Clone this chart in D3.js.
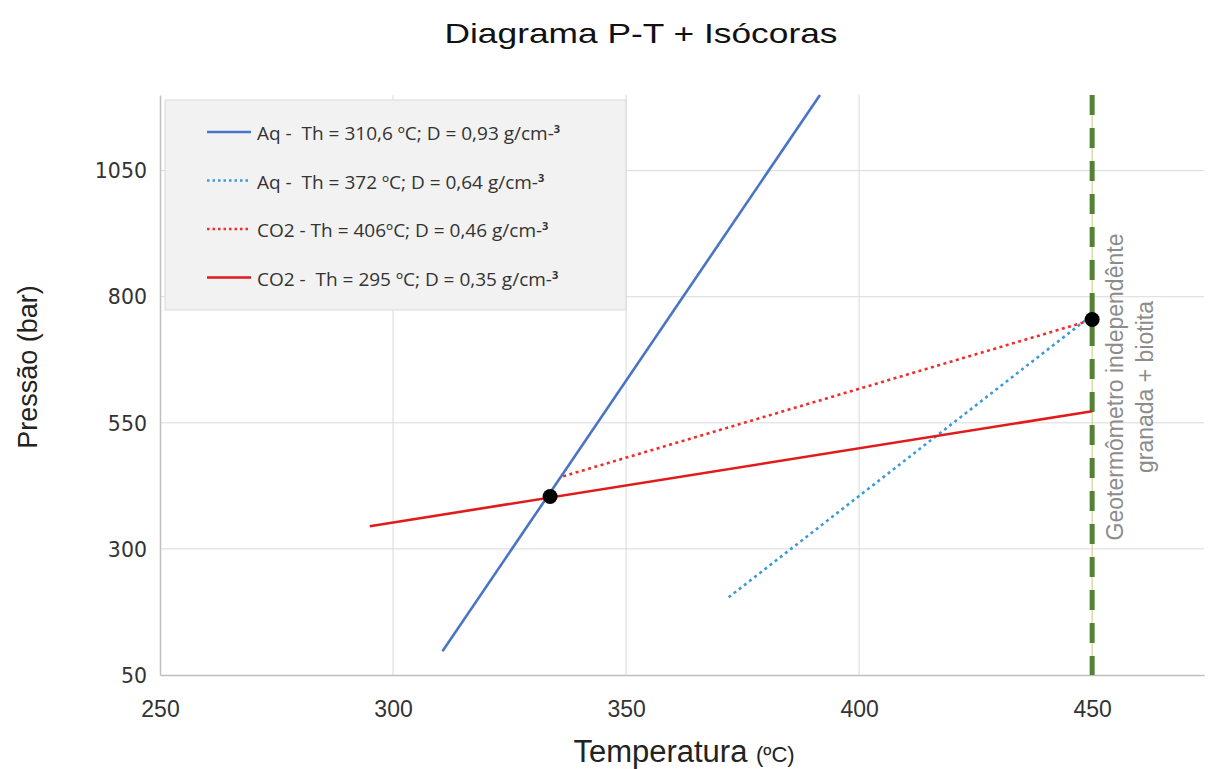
<!DOCTYPE html>
<html>
<head>
<meta charset="utf-8">
<script src="https://cdn.jsdelivr.net/npm/d3@7"></script>
<style>
  body { margin: 0; background: #fff; }
  svg { display: block; }
</style>
</head>
<body>
<div id="chart"></div>
<script>
// isochores, [temperature ºC, pressure bar]
const aqSolid = [[310.6, 97], [391.6, 1200]];
const aqDotted = [[372, 204], [448.5, 753]];
const co2Dotted = [[336.5, 444], [449.6, 753]];
const co2Solid = [[295, 345], [450, 573]];
const markers = [[333.7, 404], [450, 755]];
const geoTemp = 450;

const xTicks = [250, 300, 350, 400, 450];
const yTicks = [50, 300, 550, 800, 1050];

const legendLabels = [
  'Aq -  Th = 310,6 ºC; D = 0,93 g/cm-',
  'Aq -  Th = 372 ºC; D = 0,64 g/cm-',
  'CO2 - Th = 406ºC; D = 0,46 g/cm-',
  'CO2 -  Th = 295 ºC; D = 0,35 g/cm-'
];

const width = 1208, height = 769;
const margin = { top: 95, right: 4, bottom: 94, left: 160 };

const svg = d3.select('#chart')
  .append('svg')
  .attr('width', width)
  .attr('height', height);

const x = d3.scaleLinear()
  .domain([250, 474])
  .range([margin.left, width - margin.right]);

const y = d3.scaleLinear()
  .domain([50, 1200])
  .range([height - margin.bottom, margin.top]);

// grid
svg.append('g')
  .selectAll('line')
  .data(yTicks.slice(1))
  .join('line')
  .attr('x1', x.range()[0]).attr('x2', x.range()[1])
  .attr('y1', d => y(d)).attr('y2', d => y(d))
  .attr('stroke', '#d9d9d9').attr('stroke-width', 1);

svg.append('g')
  .selectAll('line')
  .data(xTicks.slice(1))
  .join('line')
  .attr('x1', d => x(d)).attr('x2', d => x(d))
  .attr('y1', y.range()[0]).attr('y2', y.range()[1])
  .attr('stroke', '#d9d9d9').attr('stroke-width', 1);

// axes
const xAxis = svg.append('g')
  .attr('transform', 'translate(0,' + y(50) + ')')
  .call(d3.axisBottom(x).tickValues(xTicks).tickSize(0).tickPadding(26).tickFormat(d3.format('d')));
xAxis.select('.domain').attr('stroke', '#bfbfbf').attr('stroke-width', 1.5);
xAxis.selectAll('text')
  .attr('fill', '#333')
  .style('font-family', '"Liberation Sans", Arial, sans-serif')
  .style('font-size', '23px');

const yAxis = svg.append('g')
  .attr('transform', 'translate(' + x(250) + ',0)')
  .call(d3.axisLeft(y).tickValues(yTicks).tickSize(0).tickPadding(13).tickFormat(d3.format('d')));
yAxis.select('.domain').attr('stroke', '#bfbfbf').attr('stroke-width', 1.5);
yAxis.selectAll('text')
  .attr('fill', '#333')
  .attr('dy', '0.35em')
  .style('font-family', '"DejaVu Sans", Verdana, sans-serif')
  .style('font-size', '20.5px');

// geothermometer line
svg.append('line')
  .attr('x1', x(geoTemp)).attr('x2', x(geoTemp))
  .attr('y1', y(1200)).attr('y2', y(50))
  .attr('stroke', '#d8dc8c').attr('stroke-width', 1);
svg.append('line')
  .attr('x1', x(geoTemp)).attr('x2', x(geoTemp))
  .attr('y1', y(1200)).attr('y2', y(50))
  .attr('stroke', '#548235').attr('stroke-width', 5)
  .attr('stroke-dasharray', '20,13');

const line = d3.line()
  .x(d => x(d[0]))
  .y(d => y(d[1]));

const series = [
  { data: aqSolid, color: '#4a74c4', dash: null },
  { data: aqDotted, color: '#3b9bd8', dash: '3,3.5' },
  { data: co2Dotted, color: '#f52a2a', dash: '3,3.5' },
  { data: co2Solid, color: '#e11b1b', dash: null }
];

series.forEach(s => {
  svg.append('path')
    .datum(s.data)
    .attr('fill', 'none')
    .attr('stroke', s.color)
    .attr('stroke-width', 2.6)
    .attr('stroke-dasharray', s.dash)
    .attr('d', line);
});

svg.append('g')
  .selectAll('circle')
  .data(markers)
  .join('circle')
  .attr('cx', d => x(d[0]))
  .attr('cy', d => y(d[1]))
  .attr('r', 7.5)
  .attr('fill', '#000');

// legend
const legend = svg.append('g');
legend.append('rect')
  .attr('x', 165).attr('y', 100)
  .attr('width', 461).attr('height', 210)
  .attr('fill', '#f2f2f2')
  .attr('stroke', '#d9d9d9');

const rows = legend.selectAll('g.row')
  .data(legendLabels)
  .join('g')
  .attr('class', 'row')
  .attr('transform', (d, i) => 'translate(0,' + (132 + i * 48.5) + ')');

rows.append('line')
  .attr('x1', 207).attr('x2', 251)
  .attr('y1', 0).attr('y2', 0)
  .attr('stroke', (d, i) => series[i].color)
  .attr('stroke-width', 2.6)
  .attr('stroke-dasharray', (d, i) => series[i].dash ? '2.5,3' : null);

const lt = rows.append('text')
  .attr('x', 257)
  .attr('y', 8)
  .attr('fill', '#333')
  .style('white-space', 'pre')
  .style('font-family', '"Open Sans", Lato, sans-serif')
  .style('font-size', '19px');
lt.append('tspan').text(d => d);
lt.append('tspan')
  .attr('dy', -7)
  .style('font-size', '11px')
  .style('font-weight', 'bold')
  .text('3');

// geothermometer label
const geo = svg.append('text')
  .attr('transform', 'translate(' + (x(geoTemp) + 31) + ',' + 387 + ') rotate(-90)')
  .attr('text-anchor', 'middle')
  .attr('fill', '#8c8c8c')
  .style('font-family', '"Liberation Sans", Arial, sans-serif')
  .style('font-size', '23px');
geo.append('tspan').attr('x', 0).attr('dy', 0).text('Geotermômetro independênte');
geo.append('tspan').attr('x', 0).attr('dy', 30).text('granada + biotita');

// titles
svg.append('text')
  .attr('x', 641).attr('y', 43)
  .attr('text-anchor', 'middle')
  .attr('fill', '#111')
  .attr('textLength', 393)
  .attr('lengthAdjust', 'spacingAndGlyphs')
  .style('font-family', '"Liberation Sans", Arial, sans-serif')
  .style('font-size', '28px')
  .text('Diagrama P-T + Isócoras');

svg.append('text')
  .attr('transform', 'translate(37,367) rotate(-90)')
  .attr('text-anchor', 'middle')
  .attr('fill', '#222')
  .style('font-family', '"Liberation Sans", Arial, sans-serif')
  .style('font-size', '27px')
  .text('Pressão (bar)');

const xt = svg.append('text')
  .attr('x', 684).attr('y', 762)
  .attr('text-anchor', 'middle')
  .attr('fill', '#222')
  .style('font-family', '"Liberation Sans", Arial, sans-serif')
  .style('font-size', '31px');
xt.append('tspan').text('Temperatura ');
xt.append('tspan').style('font-size', '22px').text('(ºC)');
</script>
</body>
</html>
